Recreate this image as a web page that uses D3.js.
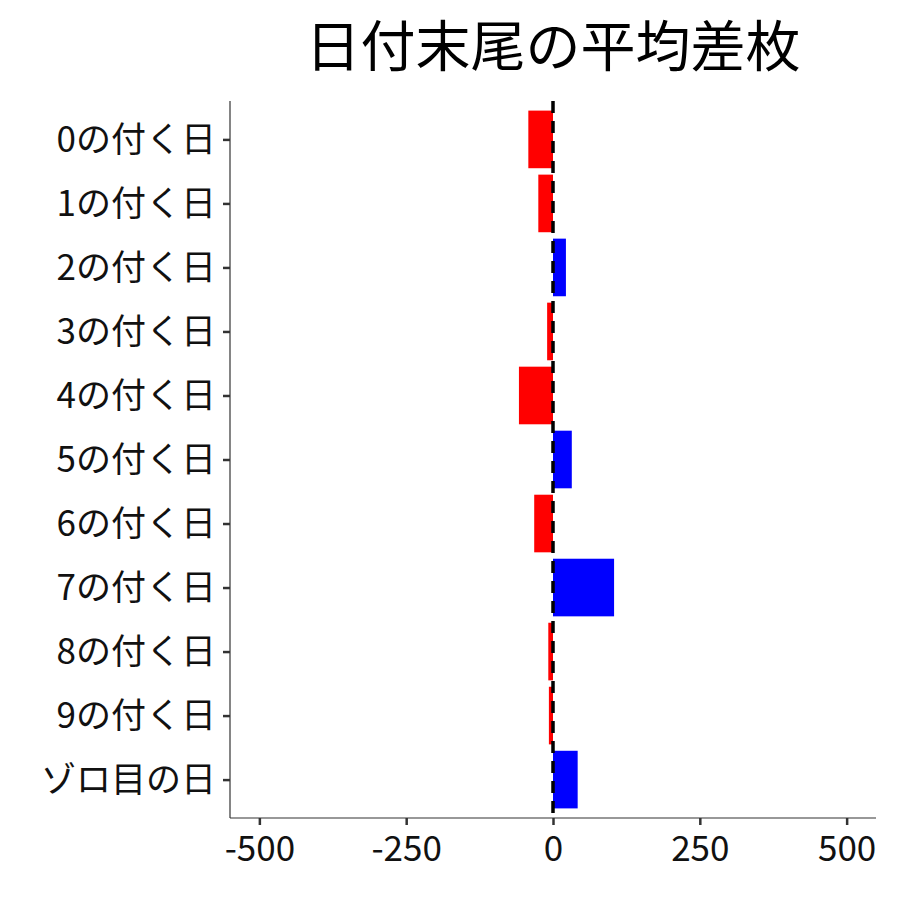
<!DOCTYPE html>
<html><head><meta charset="utf-8">
<script src="https://cdn.jsdelivr.net/npm/d3@7"></script>
<style>body{margin:0;background:#fff}text{font-family:"Noto Sans CJK JP","Noto Sans",sans-serif}</style>
</head><body><svg id="c" width="900" height="900"></svg>
<script>
const categories=["0の付く日","1の付く日","2の付く日","3の付く日","4の付く日","5の付く日","6の付く日","7の付く日","8の付く日","9の付く日","ゾロ目の日"];
const values=[-42,-25,22,-10,-58,32,-32,104,-8,-7,42];
const xTicks=[-500,-250,0,250,500];
const title="日付末尾の平均差枚";

const svg=d3.select("#c");
const L=230,R=876,T=101,B=818;
const x=d3.scaleLinear().domain([-550,550]).range([L,R]);
const step=(B-T)/(categories.length-1+1.2);
const y=d3.scalePoint().domain(categories).range([T+0.6*step,B-0.6*step]);
const bw=step*0.9;

svg.selectAll("rect.b").data(values).join("rect")
 .attr("x",d=>x(Math.min(0,d))).attr("width",d=>Math.abs(x(d)-x(0)))
 .attr("y",(d,i)=>y(categories[i])-bw/2).attr("height",bw)
 .attr("fill",d=>d<0?"#ff0000":"#0000ff");

svg.append("line").attr("x1",x(0)).attr("x2",x(0)).attr("y1",T).attr("y2",B)
 .attr("stroke","#000").attr("stroke-width",3.5).attr("stroke-dasharray","12,8");

const ax=svg.append("g").attr("transform",`translate(0,${B})`)
 .call(d3.axisBottom(x).tickValues(xTicks).tickSize(7).tickSizeOuter(0).tickFormat(d=>String(d)));
const ay=svg.append("g").attr("transform",`translate(${L},0)`)
 .call(d3.axisLeft(y).tickSize(7).tickSizeOuter(0));
[ax,ay].forEach(g=>{g.select(".domain").attr("stroke","#333").attr("stroke-width",1.2);
 g.selectAll(".tick line").attr("stroke","#333").attr("stroke-width",2.5);
 g.selectAll("text").attr("fill","#111").style("font-size","35px").style("font-family","'Noto Sans CJK JP'");});
ax.selectAll("text").attr("dy","0.95em");
ay.selectAll("text").attr("dy","0.35em").attr("x",-14);
ay.select(".domain").attr("d",`M0,${T}V${B}`);
ax.select(".domain").attr("d",`M${L},0H${R}`);

svg.append("text").attr("x",(L+R)/2).attr("y",66).attr("text-anchor","middle")
 .style("font-size","55px").attr("fill","#000").text(title);
</script></body></html>
